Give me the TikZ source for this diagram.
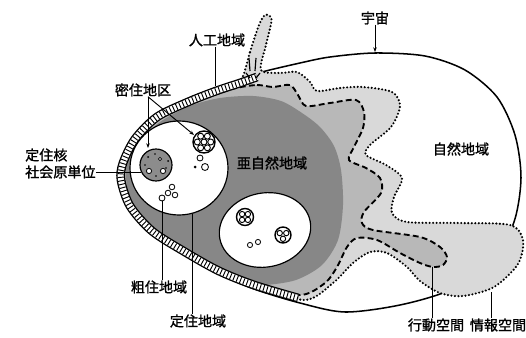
\documentclass[tikz,border=0pt]{standalone}
\usepackage{fontspec}
\newfontfamily\jp[FakeBold=1.3]{Noto Sans CJK JP}
\usetikzlibrary{arrows.meta}
\definecolor{infogray}{gray}{0.85}
\definecolor{actgray}{gray}{0.72}
\definecolor{subgray}{gray}{0.53}
\definecolor{coregray}{gray}{0.55}
\begin{document}
\begin{tikzpicture}[x=0.03cm,y=-0.03cm,
 egg/.style={draw=black,line width=1.3pt,fill=white},
 info/.style={fill=infogray,draw=black,line width=2pt,line cap=round,dash pattern=on 0pt off 3pt},
 act/.style={fill=actgray,draw=black,line width=1.6pt,dash pattern=on 5pt off 2.8pt},
 sub/.style={fill=subgray,draw=none},
 settle/.style={fill=white,draw=black,line width=1pt},
 lbl/.style={font=\jp\fontsize{12pt}{12pt}\selectfont,inner sep=0pt},
 lead/.style={draw=black,line width=0.8pt},
 tip/.style={-{Stealth[length=4pt,width=3pt]}},
 small/.style={draw=black,line width=0.7pt,fill=white},
 bandA/.style={draw=black,line width=7.5pt},
 bandB/.style={draw=white,line width=5.2pt},
 bandC/.style={draw=black,line width=5.2pt,dash pattern=on 0.8pt off 2.2pt},
 cellA/.pic={
   \draw[line width=1.2pt,fill=white] (0,0) circle[radius=11];
   \draw[line width=0.8pt] (0,0) circle[radius=3];
   \foreach \a in {0,60,...,300} \draw[line width=0.8pt] (\a:6.7) circle[radius=3];
 },
 cellB/.pic={
   \draw[line width=1.2pt,fill=white] (0,0) circle[radius=8.5];
   \foreach \a in {45,135,225,315} \draw[line width=0.8pt] (\a:4.1) circle[radius=2.7];
 },
 cellC/.pic={
   \draw[line width=1.2pt,fill=white] (0,0) circle[radius=8];
   \foreach \a in {90,210,330} \draw[line width=0.8pt] (\a:3.8) circle[radius=2.7];
 },
]
\useasboundingbox (0,0) rectangle (526,338);

% universe (egg)
\draw[egg] plot[smooth cycle,tension=0.5] coordinates {(120,181) (122,163) (134,138) (156,115) (187,99) (215,88) (240,80) (258,73) (300,63) (330,57) (375,53) (425,56) (465,70) (497,97) (515,135) (521,178) (514,222) (492,262) (450,290) (400,305) (345,312) (300,303) (254,289) (219,274) (185,255) (152,234) (130,208)};

% information space
\draw[info] plot[smooth cycle,tension=0.5] coordinates {(243,76) (250,52) (259,25) (265,15) (271,17) (271,24) (266,45) (261,70) (280,73) (297,72) (310,82) (317,91) (340,88) (363,87) (392,92) (400,106) (391,127) (370,145) (366,155) (386,165) (402,178) (394,197) (392,213) (407,222) (460,223) (510,225) (523,240) (518,264) (494,287) (463,296) (440,293) (420,281) (407,267) (387,253) (370,252) (353,263) (333,283) (305,300) (254,285) (219,271) (185,252) (152,231) (130,206) (121,180) (123,163) (135,139) (157,117) (188,102) (216,91) (235,84)};

% action space
\draw[act] plot[smooth cycle,tension=0.5] coordinates {(236,88) (257,85) (273,87) (290,85) (298,95) (306,106) (330,103) (356,100) (364,112) (363,128) (354,147) (349,160) (366,168) (380,178) (381,193) (364,212) (362,223) (373,230) (420,237) (440,247) (447,257) (443,265) (433,267) (420,263) (400,253) (377,240) (357,238) (347,247) (337,267) (325,283) (300,295) (254,283) (219,270) (185,250) (152,229) (130,205) (123,180) (125,163) (137,140) (159,119) (190,104) (217,94)};

% sub-natural area
\fill[sub] plot[smooth cycle,tension=0.5] coordinates {(126,178) (128,160) (138,143) (160,122) (190,106) (220,98) (253,96) (281,101) (302,113) (320,127) (334,146) (341,170) (343,205) (338,240) (322,265) (296,280) (265,285) (254,282) (219,268) (186,248) (154,229) (132,205)};

% artificial band
\foreach \st in {bandA,bandB,bandC}
  \draw[\st] plot[smooth,tension=0.5] coordinates {(298,298) (254,285) (219,271) (185,252) (152,231) (130,206) (121,180) (123,163) (135,139) (157,117) (188,102) (216,91) (240,83) (257,77)};
\draw[line width=1pt] (249,58) -- (250,71) (256,58) -- (255,71) (246,73) -- (250,78) (260,73) -- (256,78);

% settlement areas
\draw[settle] (179,168) ellipse[x radius=49,y radius=47];
\draw[settle,rotate around={11:(265,230)}] (265,230) ellipse[x radius=46,y radius=37];

% core circle
\draw[line width=1pt,fill=coregray] (156,165) circle[radius=16];
\draw[small] (149,171) circle[radius=2.6] (163,171) circle[radius=2.6] (160,159) circle[radius=1.6];
\fill[black] (148,157) circle[radius=1] (155,154) circle[radius=0.9] (168,161) circle[radius=1] (156,176) circle[radius=0.9] (145,165) circle[radius=0.8] (166,168) circle[radius=0.8];

% dense districts
\pic at (204,142) {cellA};
\draw[small] (200,158) circle[radius=3] (205,167) circle[radius=3.5];
\fill[black] (195,167) circle[radius=1.5];
\draw[small] (172,187) circle[radius=2.8] (168,193) circle[radius=2.8] (175,195) circle[radius=2.8] (162,198) circle[radius=3];
\pic at (245,217) {cellB};
\pic at (283,235) {cellC};
\draw[small] (250,245) circle[radius=2.6] (258,242) circle[radius=2.6];

% labels
\node[lbl] (uchu) at (375,18) {宇宙};
\coordinate (uchuT) at (375,52);
\draw[lead,tip] (uchu) -- (uchuT);

\node[lbl] (jinko) at (217,40) {人工地域};
\coordinate (jinkoT) at (215,86);
\draw[lead] (jinko.south -| jinkoT) -- (jinkoT);

\node[lbl] (mitsu) at (143,90) {密住地区};
\coordinate (mitsuA) at (148,148);
\coordinate (mitsuB) at (194,135);
\draw[lead,tip] (mitsu.south -| mitsuA) -- (mitsuA);
\draw[lead,tip] (mitsu.south -| mitsuA) -- (mitsuB);

\node[lbl,anchor=west] (teikaku) at (25,155) {定住核};
\node[lbl,anchor=west] (shakai) at (25,172) {社会原単位};
\coordinate (coreL) at (141,172);
\draw[lead] (shakai.east) -- (coreL);

\node[lbl] (akizen) at (272,163) {亜自然地域};
\node[lbl] (shizen) at (461,149) {自然地域};

\node[lbl] (sosu) at (159,287) {粗住地域};
\coordinate (sosuT) at (162,201);
\draw[lead] (sosu.north -| sosuT) -- (sosuT);

\node[lbl] (teiju) at (198,321) {定住地域};
\coordinate (teijuT) at (192,214);
\draw[lead] (teiju.north -| teijuT) -- (teijuT);

\node[lbl] (kodo) at (436,325) {行動空間};
\coordinate (kodoT) at (432,267);
\draw[lead] (kodo.north -| kodoT) -- (kodoT);

\node[lbl] (joho) at (498,325) {情報空間};
\coordinate (johoT) at (491,292);
\draw[lead] (joho.north -| johoT) -- (johoT);
\end{tikzpicture}
\end{document}
